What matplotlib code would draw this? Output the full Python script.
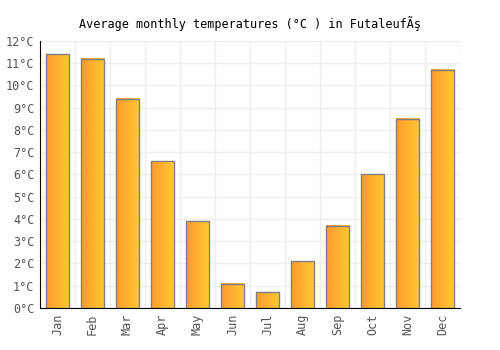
import numpy as np
import matplotlib
matplotlib.use("Agg")
import matplotlib.pyplot as plt
from matplotlib.colors import LinearSegmentedColormap

months = ["Jan", "Feb", "Mar", "Apr", "May", "Jun", "Jul", "Aug", "Sep", "Oct", "Nov", "Dec"]
temps = [11.4, 11.2, 9.4, 6.6, 3.9, 1.1, 0.7, 2.1, 3.7, 6.0, 8.5, 10.7]
yticks = list(range(0, 13))
ylabels = [str(t) + "°C" for t in yticks]

plt.rcParams['font.family'] = ['DejaVu Sans Mono']

fig = plt.figure(figsize=(5, 3.5), dpi=100)
ax = fig.add_axes([0.08, 0.12, 0.84, 0.763])

grad = LinearSegmentedColormap.from_list("g", ["#ff9a2e", "#ffc933"])
gimg = np.linspace(0, 1, 64).reshape(1, -1)

width = 0.68
x = np.arange(len(months))
bars = ax.bar(x, temps, width=width, color="none", edgecolor="#7f7f7f", linewidth=1, zorder=3)
for b in bars:
    x0 = b.get_x()
    h = b.get_height()
    ax.imshow(gimg, cmap=grad, aspect="auto", extent=[x0, x0 + width, 0, h], zorder=2)

ax.set_xlim(-0.5, len(months) - 0.5)
ax.set_ylim(0, 12)
ax.set_xticks(x)
ax.set_xticklabels(months, rotation=90, fontsize=8.5, color="#555555")
ax.set_yticks(yticks)
ax.set_yticklabels(ylabels, fontsize=8.5, color="#555555")
ax.set_xticks(np.arange(-0.5, len(months), 1), minor=True)
ax.grid(True, which="minor", axis="x", color="#eeeeee", linewidth=1, zorder=0)
ax.grid(True, which="major", axis="y", color="#eeeeee", linewidth=1, zorder=0)
ax.tick_params(which="both", length=0, pad=4)
for s in ["top", "right"]:
    ax.spines[s].set_visible(False)
ax.spines["left"].set_color("black")
ax.spines["bottom"].set_color("black")
ax.set_axisbelow(True)

fig.suptitle("Average monthly temperatures (°C ) in FutaleufÃş", fontsize=8.5, y=0.955)
fig.savefig("out.png", dpi=100)
